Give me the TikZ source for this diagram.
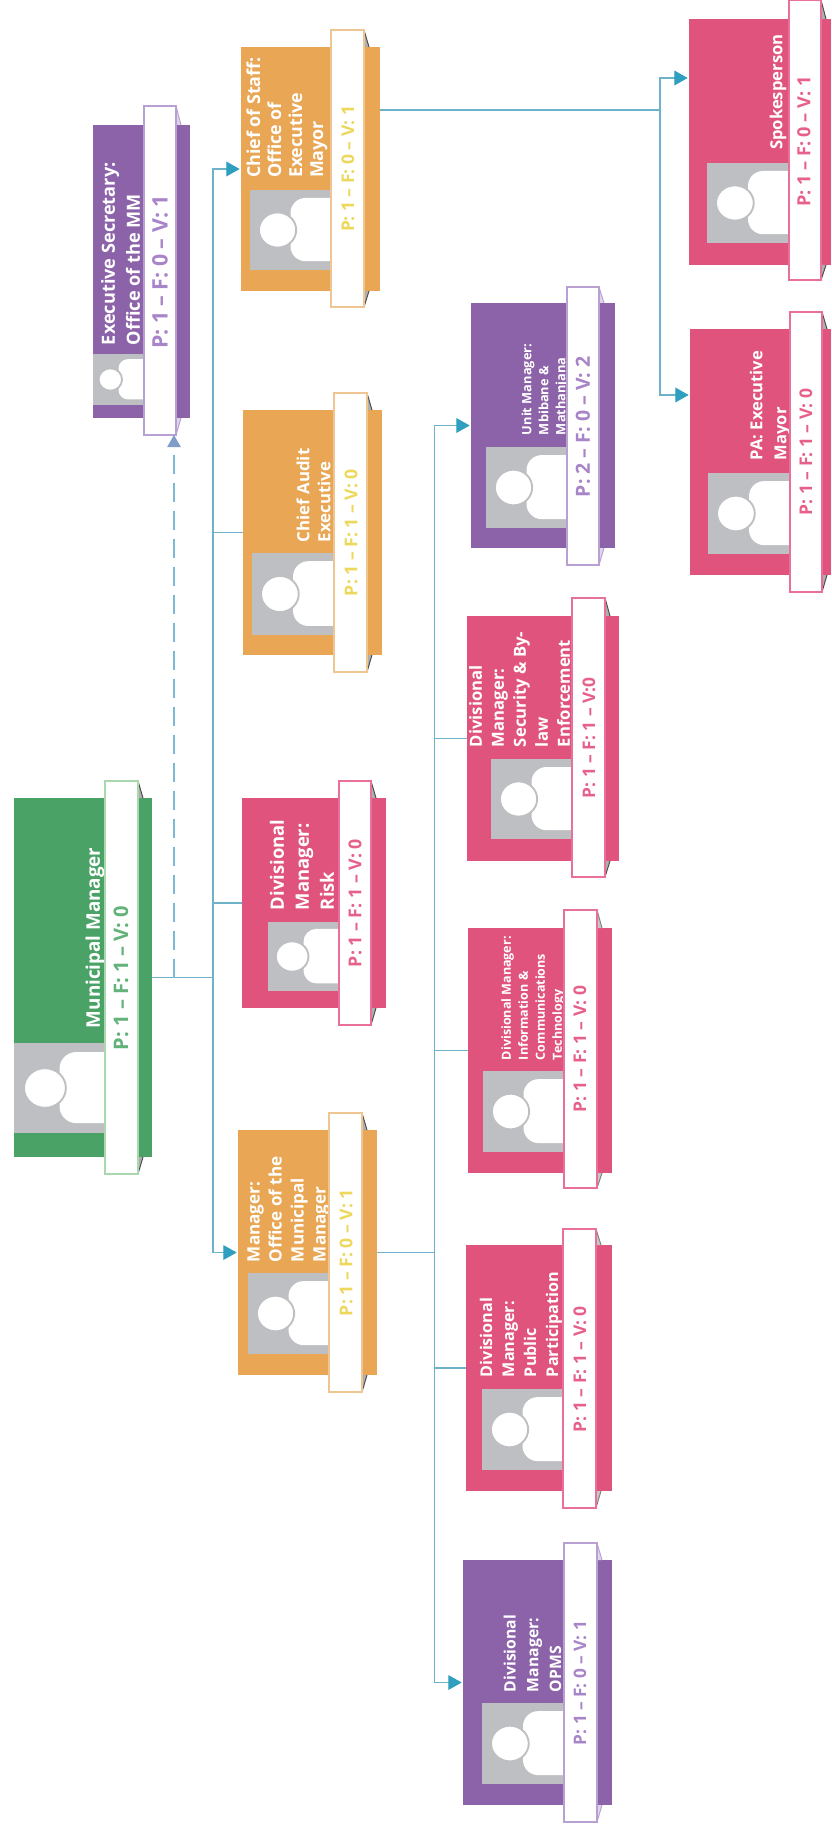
\documentclass[tikz,border=0pt]{standalone}
\usepackage{fontspec}
\setmainfont{Open Sans}
\usetikzlibrary{arrows.meta}
\definecolor{cgreen}{HTML}{4AA267}
\definecolor{cpink}{HTML}{E0537C}
\definecolor{corange}{HTML}{E9A654}
\definecolor{cpurple}{HTML}{8C62A9}
\definecolor{cgray}{HTML}{BDBFC2}
\definecolor{lgreen}{HTML}{A9D8AE}
\definecolor{lpink}{HTML}{E8709A}
\definecolor{lorange}{HTML}{EFC592}
\definecolor{lpurple}{HTML}{B8A0D2}
\definecolor{tgreen}{HTML}{62B27A}
\definecolor{tpink}{HTML}{E6608A}
\definecolor{torange}{HTML}{EDD85C}
\definecolor{tpurple}{HTML}{A884C8}
\definecolor{linec}{HTML}{6DB2C9}
\definecolor{tipc}{HTML}{2F9FBF}
\definecolor{dashc}{HTML}{7DB9D6}
\definecolor{opentip}{HTML}{7F9DC9}
\definecolor{fdark}{HTML}{4A4A4A}
\definecolor{fmid}{HTML}{808080}
\tikzset{
  cardbox/.style={rectangle,inner sep=0pt,outer sep=0pt,draw=none},
  cardtext/.style={rectangle,inner sep=0pt,outer sep=0pt,rotate=90,anchor=west,align=left,text=white,font=\bfseries},
  tagtext/.style={rectangle,inner sep=0pt,outer sep=0pt,rotate=90,anchor=west,font=\bfseries},
  conn/.style={draw=linec,line width=0.9pt},
  arrowconn/.style={conn,-{Triangle[length=10pt,width=11pt,fill=tipc,color=tipc]},shorten >=1pt},
  dashconn/.style={draw=dashc,line width=0.9pt,dash pattern=on 14pt off 7pt,-{Triangle[length=9pt,width=10pt,fill=opentip,color=opentip]}}
}
% id, colour, x0, y0, x1, y1
\newcommand{\cardbody}[6]{%
  \def\cid{#1}\def\cyA{#4}\def\cyB{#6}%
  \node[cardbox,fill=#2,minimum width={(#5-#3)*0.75pt},minimum height={(#6-#4)*0.75pt}] (#1) at ({(#3+#5)/2},{(#4+#6)/2}) {};
}
% x0, y0, x1, y1
\newcommand{\cardphoto}[4]{%
  \fill[cgray] (#1,#2) rectangle (#3,#4);
  \fill[white,rounded corners={0.14*(#4-#2)*1pt}] ({#1+0.5*(#3-#1)},{#2+0.1*(#4-#2)}) rectangle ({#3+20},{#2+0.89*(#4-#2)});
  \fill[white,draw=cgray,line width=1.4pt] ({#1+0.34*(#3-#1)},{(#2+#4)/2}) ellipse [x radius={0.23*(#3-#1)},y radius={0.22*(#4-#2)}];
}
% text centre x, bottom y, size, skip, text
\newcommand{\cardlabel}[5]{%
  \node[cardtext,font=\bfseries\fontsize{#3}{#4}\selectfont] (\cid lab) at (#1,#2) {#5};
}
% x0,y0,x1,y1, border, text colour, fold colour
\newcommand{\cardtag}[7]{%
  \fill[#7!45!white] (#3,#2) -- ({#3+5},\cyA) -- (#3,\cyA) -- cycle;
  \fill[#7!45!white] (#3,#4) -- ({#3+5},\cyB) -- (#3,\cyB) -- cycle;
  \draw[#7,line width=0.7pt] (#3,#2) -- ({#3+5},\cyA);
  \draw[#7,line width=0.7pt] (#3,#4) -- ({#3+5},\cyB);
  \node[cardbox,fill=white,draw=#5,line width=0.9pt,minimum width={(#3-#1)*0.75pt},minimum height={(#4-#2)*0.75pt}] (\cid tag) at ({(#1+#3)/2},{(#2+#4)/2}) {};
  \def\tcol{#6}%
}
% centre x, bottom y, size, text
\newcommand{\taglabel}[4]{%
  \node[tagtext,text=\tcol,font=\bfseries\fontsize{#3}{#3}\selectfont] (\cid val) at (#1,#2) {#4};
}
\begin{document}
\begin{tikzpicture}[x=0.75pt,y=-0.75pt]
\useasboundingbox (0,0) rectangle (831,1826);
\fill[white] (0,0) rectangle (831,1826);

% Municipal Manager
\cardbody{mm}{cgreen}{14}{798}{152}{1157}
\cardphoto{14}{1043}{105}{1133}
\cardlabel{95}{1028}{14.1}{16}{Municipal Manager}
\cardtag{105}{781}{138}{1174}{lgreen}{tgreen}{fdark}
\taglabel{121}{1050}{15}{P: 1 -- F: 1 -- V: 0}

% Executive Secretary
\cardbody{es}{cpurple}{93}{125}{190}{418}
\cardphoto{93}{354}{144}{405}
\cardlabel{120.5}{345}{13.6}{18.75}{Executive Secretary:\\Office of the MM}
\cardtag{144}{106}{176}{435}{lpurple}{tpurple}{lpurple}
\taglabel{160}{349}{16}{P: 1 -- F: 0 -- V: 1}

% Chief of Staff
\cardbody{cos}{corange}{241}{47}{380}{291}
\cardphoto{250}{190}{331}{270}
\cardlabel{287}{178}{13.4}{15.75}{Chief of Staff:\\Office of\\Executive\\Mayor}
\cardtag{331}{30}{364}{307}{lorange}{torange}{fdark}
\taglabel{348}{232}{13.1}{P: 1 -- F: 0 -- V: 1}

% Chief Audit
\cardbody{cae}{corange}{243}{410}{382}{655}
\cardphoto{252}{553}{334}{635}
\cardlabel{313.5}{542}{12.6}{15.75}{Chief Audit\\Executive}
\cardtag{334}{393}{367}{672}{lorange}{torange}{fdark}
\taglabel{351}{596}{13.2}{P: 1 -- F: 1 -- V: 0}

% Risk
\cardbody{risk}{cpink}{242}{798}{386}{1008}
\cardphoto{268}{922}{339}{991}
\cardlabel{302}{910}{13.8}{18.75}{Divisional\\Manager:\\Risk}
\cardtag{339}{781}{371}{1025}{lpink}{tpink}{fdark}
\taglabel{355}{967}{13.3}{P: 1 -- F: 1 -- V: 0}

% Manager Office
\cardbody{omm}{corange}{238}{1130}{377}{1375}
\cardphoto{248}{1273}{329}{1354}
\cardlabel{288.5}{1262}{12.8}{16.5}{Manager:\\Office of the\\Municipal\\Manager}
\cardtag{329}{1113}{362}{1392}{lorange}{torange}{fdark}
\taglabel{346}{1316}{13.2}{P: 1 -- F: 0 -- V: 1}

% Unit Manager
\cardbody{um}{cpurple}{471}{303}{615}{548}
\cardphoto{486}{447}{567}{528}
\cardlabel{545}{435}{9.6}{12.75}{Unit Manager:\\Mbibane \&\\Mathanjana}
\cardtag{567}{287}{599}{565}{lpurple}{tpurple}{lpurple}
\taglabel{583}{497}{14.6}{P: 2 -- F: 0 -- V: 2}

% PA
\cardbody{pa}{cpink}{690}{329}{831}{575}
\cardphoto{708}{473}{790}{554}
\cardlabel{770}{460}{12.4}{18}{PA: Executive\\Mayor}
\cardtag{790}{312}{822}{592}{lpink}{tpink}{fdark}
\taglabel{806}{515}{13.1}{P: 1 -- F: 1 -- V: 0}

% Spokesperson
\cardbody{sp}{cpink}{689}{19}{831}{265}
\cardphoto{707}{163}{789}{243}
\cardlabel{778}{150}{12.5}{16}{Spokesperson}
\cardtag{789}{0}{821}{280}{lpink}{tpink}{fdark}
\taglabel{804}{207}{13.6}{P: 1 -- F: 0 -- V: 1}

% Security
\cardbody{sec}{cpink}{467}{616}{619}{861}
\cardphoto{491}{759}{572}{839}
\cardlabel{519.5}{747}{12.5}{16.5}{Divisional\\Manager:\\Security \& By-\\law\\Enforcement}
\cardtag{572}{598}{605}{877}{lpink}{tpink}{fdark}
\taglabel{589}{798}{13}{P: 1 -- F: 1 -- V:0}

% ICT
\cardbody{ict}{cpink}{468}{928}{612}{1173}
\cardphoto{483}{1071}{564}{1152}
\cardlabel{533}{1060}{9.4}{12.75}{Divisional Manager:\\Information \&\\Communications\\Technology}
\cardtag{564}{910}{597}{1188}{lpink}{tpink}{fmid}
\taglabel{580}{1112}{13.1}{P: 1 -- F: 1 -- V: 0}

% Public Participation
\cardbody{pp}{cpink}{466}{1245}{612}{1491}
\cardphoto{482}{1389}{563}{1470}
\cardlabel{521}{1377}{12.1}{16.5}{Divisional\\Manager:\\Public\\Participation}
\cardtag{563}{1229}{596}{1508}{lpink}{tpink}{fmid}
\taglabel{580}{1432}{13.1}{P: 1 -- F: 1 -- V: 0}

% OPMS
\cardbody{opms}{cpurple}{463}{1560}{612}{1805}
\cardphoto{482}{1703}{564}{1784}
\cardlabel{532.5}{1692}{11.8}{17}{Divisional\\Manager:\\OPMS}
\cardtag{564}{1543}{597}{1822}{lpurple}{tpurple}{lpurple}
\taglabel{580}{1745}{12.9}{P: 1 -- F: 0 -- V: 1}

% Junctions
\coordinate (jm) at (213,977.5);
\coordinate (jd) at (174,977.5);
\coordinate (jo) at (434.5,1252.5);
\coordinate (cosout) at (380,110);
\coordinate (js) at (660,110);
\coordinate (spin) at (689,78);
\coordinate (pain) at (690,395);

% Connectors
\draw[conn] (mm.east) -- (jm);
\draw[dashconn] (jd) -- (jd |- estag.south);
\draw[arrowconn] (jm) |- (cos.west);
\draw[arrowconn] (jm) |- (omm.west);
\draw[conn] (jm) |- (cae.west);
\draw[conn] (jm) |- (risk.west);
\draw[conn] (omm.east) -- (jo);
\draw[arrowconn] (jo) |- (um.west);
\draw[arrowconn] (jo) |- (opms.west);
\draw[conn] (jo) |- (sec.west);
\draw[conn] (jo) |- (ict.west);
\draw[conn] (jo) |- (pp.west);
\draw[conn] (cosout) -- (js);
\draw[arrowconn] (js) |- (spin);
\draw[arrowconn] (js) |- (pain);
\end{tikzpicture}
\end{document}
